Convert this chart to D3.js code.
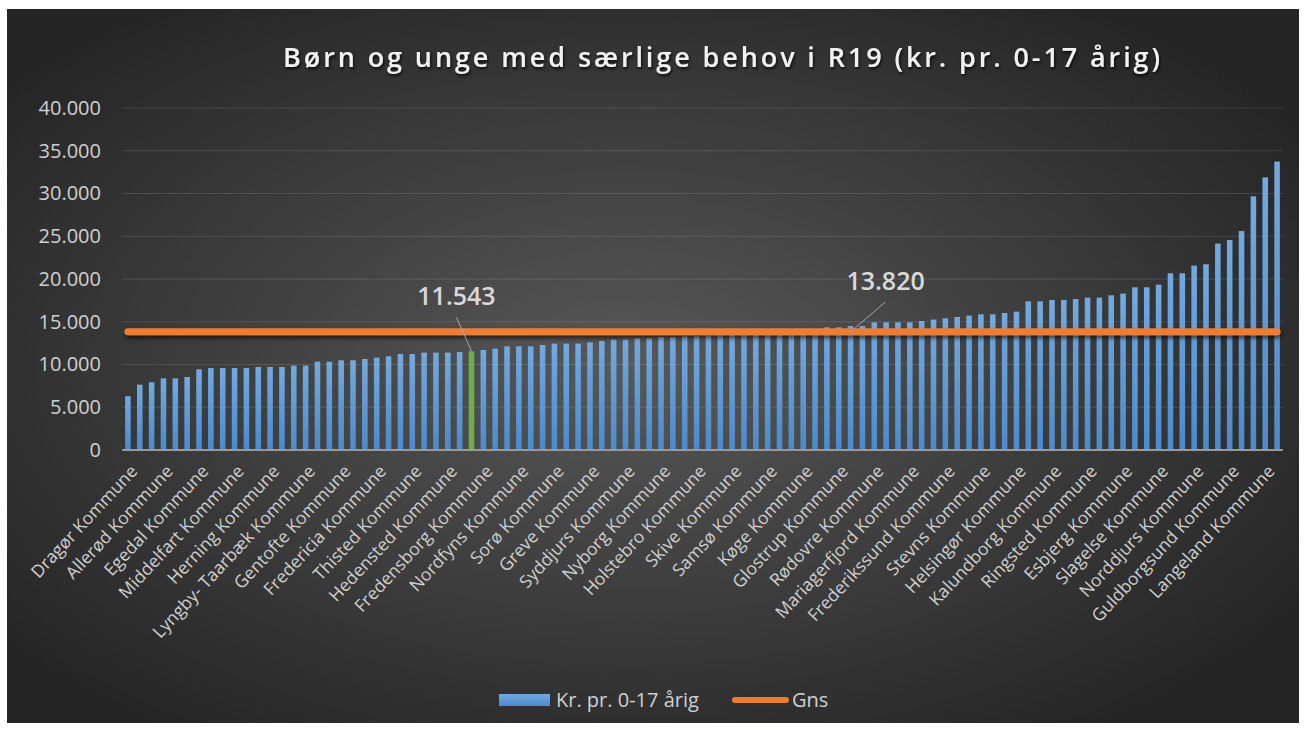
<!DOCTYPE html>
<html>
<head>
<meta charset="utf-8">
<script src="https://cdn.jsdelivr.net/npm/d3@7"></script>
<style>
  body { margin: 0; background: #fff; }
  svg, svg text { font-family: "Open Sans", "Noto Sans", sans-serif; }
</style>
</head>
<body>
<div id="chart"></div>
<script>
// every third municipality carries a label on the x axis
var tickLabels = ["Dragør Kommune", "Allerød Kommune", "Egedal Kommune", "Middelfart Kommune",
  "Herning Kommune", "Lyngby- Taarbæk Kommune", "Gentofte Kommune", "Fredericia Kommune",
  "Thisted Kommune", "Hedensted Kommune", "Fredensborg Kommune", "Nordfyns Kommune",
  "Sorø Kommune", "Greve Kommune", "Syddjurs Kommune", "Nyborg Kommune", "Holstebro Kommune",
  "Skive Kommune", "Samsø Kommune", "Køge Kommune", "Glostrup Kommune", "Rødovre Kommune",
  "Mariagerfjord Kommune", "Frederikssund Kommune", "Stevns Kommune", "Helsingør Kommune",
  "Kalundborg Kommune", "Ringsted Kommune", "Esbjerg Kommune", "Slagelse Kommune",
  "Norddjurs Kommune", "Guldborgsund Kommune", "Langeland Kommune"];
var labelEvery = 3;

// kr. pr. 0-17 årig, sorted ascending
var values = [6280, 7640, 7920, 8380, 8380, 8540, 9440, 9590, 9590, 9590,
  9590, 9710, 9710, 9710, 9870, 9870, 10330, 10330, 10490, 10490,
  10640, 10800, 10960, 11230, 11230, 11390, 11390, 11390, 11450, 11543,
  11700, 11850, 12130, 12130, 12130, 12280, 12440, 12440, 12440, 12590,
  12750, 12910, 12910, 13060, 13060, 13220, 13220, 13300, 13320, 13360,
  13420, 13480, 13550, 13630, 13720, 13820, 13920, 14020, 14120, 14350,
  14350, 14500, 14500, 14930, 14930, 14930, 14930, 15090, 15250, 15400,
  15560, 15710, 15870, 15870, 16030, 16180, 17390, 17390, 17550, 17550,
  17660, 17820, 17820, 18090, 18290, 19030, 19030, 19340, 20670, 20670,
  21560, 21720, 24140, 24560, 25620, 29670, 31890, 33730];
var highlightIndex = 29;   // the green bar, 11.543
var average = 13820;       // Gns
var averageLabelIndex = 61;
var yTicks = [0, 5000, 10000, 15000, 20000, 25000, 30000, 35000, 40000];

var W = 1306, H = 731;
var margin = {top: 108, right: 23, bottom: 281, left: 122};
var font = '"Open Sans", "Noto Sans", sans-serif';

var locale = d3.formatLocale({decimal: ",", thousands: ".", grouping: [3], currency: ["", " kr."]});
var fmt = locale.format(",.0f");

var svg = d3.select("#chart").append("svg").attr("width", W).attr("height", H);
var defs = svg.append("defs");

var bg = defs.append("radialGradient").attr("id", "bg")
  .attr("cx", "48%").attr("cy", "50%").attr("r", "62%");
bg.append("stop").attr("offset", "0%").attr("stop-color", "#585858");
bg.append("stop").attr("offset", "100%").attr("stop-color", "#252525");

var barGrad = defs.append("linearGradient").attr("id", "barGrad")
  .attr("x1", 0).attr("y1", 0).attr("x2", 0).attr("y2", 1);
barGrad.append("stop").attr("offset", "0%").attr("stop-color", "#72aae0");
barGrad.append("stop").attr("offset", "100%").attr("stop-color", "#4a8acd");

// user space so a flat line still gets a filter region
var shadow = defs.append("filter").attr("id", "shadow").attr("filterUnits", "userSpaceOnUse")
  .attr("x", 0).attr("y", 0).attr("width", W).attr("height", H);
shadow.append("feDropShadow").attr("dx", 1).attr("dy", 3).attr("stdDeviation", 2)
  .attr("flood-color", "#000").attr("flood-opacity", 0.6);

var titleShadow = defs.append("filter").attr("id", "titleShadow")
  .attr("x", "-5%").attr("y", "-50%").attr("width", "110%").attr("height", "200%");
titleShadow.append("feDropShadow").attr("dx", 1).attr("dy", 2).attr("stdDeviation", 1.5)
  .attr("flood-color", "#000").attr("flood-opacity", 0.8);

svg.append("rect").attr("x", 7).attr("y", 9).attr("width", 1292).attr("height", 714)
  .attr("fill", "url(#bg)");

var x = d3.scaleBand().domain(d3.range(values.length))
  .range([margin.left, W - margin.right]).paddingInner(0.53).paddingOuter(0.265);
var y = d3.scaleLinear().domain([0, 40000]).range([H - margin.bottom, margin.top]);

// gridlines
svg.append("g").selectAll("line").data(yTicks.slice(1)).enter().append("line")
  .attr("x1", margin.left).attr("x2", W - margin.right)
  .attr("y1", function(d) { return y(d); }).attr("y2", function(d) { return y(d); })
  .attr("stroke", "#ffffff").attr("stroke-opacity", 0.12).attr("stroke-width", 1);

// y axis labels
var yAxis = svg.append("g").attr("transform", "translate(" + margin.left + ",0)")
  .call(d3.axisLeft(y).tickValues(yTicks).tickFormat(fmt).tickSize(0).tickPadding(21))
  .attr("font-family", font).attr("font-size", 20);
yAxis.select(".domain").remove();
yAxis.selectAll("text").attr("fill", "#d0d0d0");

// bars
svg.append("g").selectAll("rect").data(values).enter().append("rect")
  .attr("x", function(d, i) { return x(i); })
  .attr("y", function(d) { return y(d); })
  .attr("width", x.bandwidth())
  .attr("height", function(d) { return y(0) - y(d); })
  .attr("fill", function(d, i) { return i === highlightIndex ? "#70ad47" : "url(#barGrad)"; });

// x axis
var xAxis = svg.append("g").attr("transform", "translate(0," + y(0) + ")")
  .call(d3.axisBottom(x)
    .tickValues(d3.range(0, values.length, labelEvery))
    .tickFormat(function(i) { return tickLabels[i / labelEvery]; })
    .tickSize(0))
  .attr("font-family", font).attr("font-size", 17.5);
xAxis.select(".domain").attr("stroke", "#9a9a9a").attr("stroke-width", 2)
  .attr("d", "M" + margin.left + ",0H" + (W - margin.right));
xAxis.selectAll("text")
  .attr("fill", "#d0d0d0")
  .attr("text-anchor", "end").attr("y", 0).attr("dy", "0.35em")
  .attr("transform", "translate(6,18) rotate(-47)");

// average line
svg.append("line")
  .attr("x1", x(0) + x.bandwidth() / 2).attr("x2", x(values.length - 1) + x.bandwidth() / 2)
  .attr("y1", y(average)).attr("y2", y(average))
  .attr("stroke", "#ed7d31").attr("stroke-width", 7).attr("stroke-linecap", "round")
  .attr("filter", "url(#shadow)");

// data labels with leader lines
var labels = [
  {i: highlightIndex, v: values[highlightIndex], tx: -15, ty: -46},
  {i: averageLabelIndex, v: average, tx: 35, ty: -42}
];
labels.forEach(function(l) {
  var cx = x(l.i) + x.bandwidth() / 2, cy = y(l.v);
  svg.append("line")
    .attr("x1", cx).attr("y1", cy)
    .attr("x2", cx + l.tx).attr("y2", cy + l.ty + 12)
    .attr("stroke", "#a6a6a6").attr("stroke-width", 1);
  svg.append("text")
    .attr("x", cx + l.tx).attr("y", cy + l.ty)
    .attr("text-anchor", "middle")
    .attr("fill", "#d9d9d9").style("font-size", "25px").style("font-weight", 600)
    .text(fmt(l.v));
});

// title
svg.append("text").attr("x", 723).attr("y", 67).attr("text-anchor", "middle")
  .attr("fill", "#f2f2f2").style("font-size", "27px").style("font-weight", 600)
  .style("letter-spacing", "2.9px").attr("filter", "url(#titleShadow)")
  .text("Børn og unge med særlige behov i R19 (kr. pr. 0-17 årig)");

// legend
var lg = svg.append("g");
lg.append("rect").attr("x", 499).attr("y", 694).attr("width", 51).attr("height", 12)
  .attr("fill", "url(#barGrad)");
lg.append("text").attr("x", 556).attr("y", 707).attr("fill", "#d0d0d0")
  .style("font-size", "20px").text("Kr. pr. 0-17 årig");
lg.append("line").attr("x1", 735).attr("x2", 786).attr("y1", 700).attr("y2", 700)
  .attr("stroke", "#ed7d31").attr("stroke-width", 6).attr("stroke-linecap", "round");
lg.append("text").attr("x", 792).attr("y", 707).attr("fill", "#d0d0d0")
  .style("font-size", "20px").text("Gns");
</script>
</body>
</html>
